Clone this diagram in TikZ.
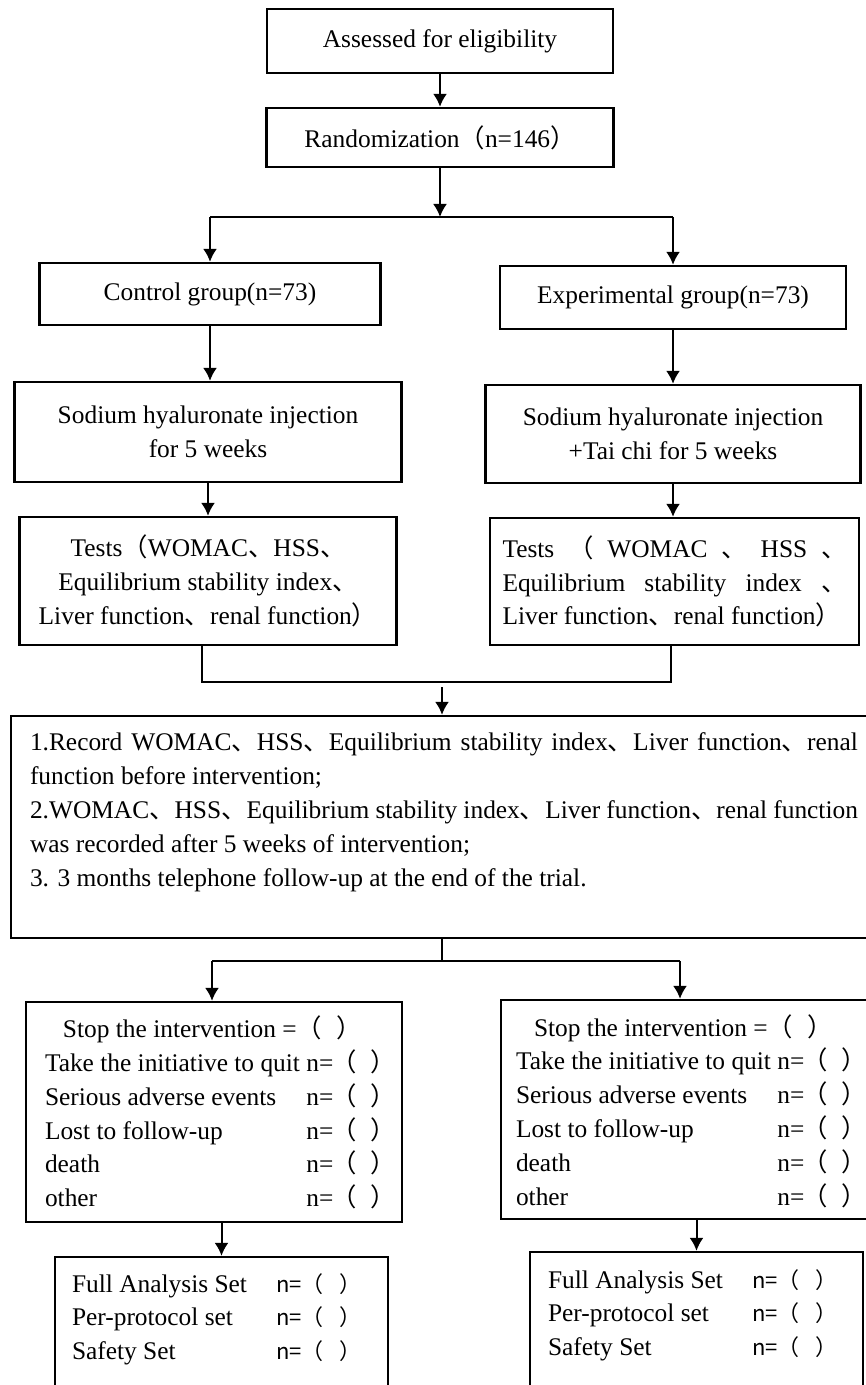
\documentclass[tikz,border=0pt]{standalone}
\usepackage{fontspec}
\setmainfont{Liberation Serif}
\newfontfamily\cjk{Noto Sans CJK SC}
\usetikzlibrary{arrows.meta}
\newcommand\dun{{\cjk 、}}
\newcommand\zkl{{\cjk （}}
\newcommand\zkr{{\cjk ）}}
\newcommand\nempty{n=\kern-1pt\zkl\hspace{7pt}\zkr\kern-6pt}
\newcommand\nbr{{\cjk\fontsize{11}{16}\selectfont n=（\hspace{8pt}）\kern-5pt}}

\begin{document}
\begin{tikzpicture}[x=0.5pt, y=-0.5pt, line width=1pt, -{Latex[length=6.5pt,width=7pt]},
      every node/.append style={font=\fontsize{12.7}{16.9}\selectfont},
      box/.style={draw, line width=1.2pt, align=center, inner sep=0pt},
      txt/.style={inner sep=0pt, anchor=north west}]
    \useasboundingbox (0,0) rectangle (866,1385);
    \clip (0,0) rectangle (866,1385);
    % top part
    \node (assess) [box, minimum width=173pt, minimum height=32pt] at (440,41) {Assessed for eligibility};
    \node (rand) [box, minimum width=173.5pt, minimum height=29.5pt] at (440,137.5) {Randomization\zkl n=146\zkr};
    \node (ctrl) [box, minimum width=170.5pt, minimum height=31pt] at (210,294) {Control group(n=73)};
    \node (expt) [box, minimum width=173pt, minimum height=31.5pt] at (673,297.5) {Experimental group(n=73)};
    \node (injC) [box, minimum width=193.5pt, minimum height=50pt] at (208,432) {Sodium hyaluronate injection\\for 5 weeks};
    \node (injE) [box, minimum width=187.5pt, minimum height=49pt] at (673,434) {Sodium hyaluronate injection\\+Tai chi for 5 weeks};
    \node (testC) [box, minimum width=188.5pt, minimum height=64pt] at (208,581)
      {Tests\zkl WOMAC\dun HSS\dun\\Equilibrium stability index\dun\\Liver function\dun renal function\zkr};
    \node (testE) [box, minimum width=184.5pt, minimum height=63.5pt, text width=172pt, align=justify] at (674.5,581.5)
      {Tests \zkl{} WOMAC \dun{} HSS \dun\linebreak Equilibrium stability index \dun\linebreak Liver function\dun renal function\zkr};
    % record box
    \node (record) [box, minimum width=432pt, minimum height=111pt] at (443,827) {};
    \node (recordtext) [txt, text width=414pt, align=justify] at (29,732)
      {1.Record WOMAC\dun HSS\dun Equilibrium stability index\dun Liver function\dun renal\linebreak
       function before intervention;\\
       2.WOMAC\dun HSS\dun Equilibrium stability index\dun Liver function\dun renal function\linebreak
       was recorded after 5 weeks of intervention;\\
       3. 3 months telephone follow-up at the end of the trial.};
    % drop-out boxes
    \node (listC) [box, minimum width=188pt, minimum height=110pt] at (214,1112) {};
    \node (listE) [box, minimum width=189.5pt, minimum height=109.5pt] at (690.5,1109.5) {};
    \node (listCtext) [txt] at (44,1013) {\begin{tabular}{@{}l@{ }l@{}}
      \multicolumn{2}{@{\hspace{9pt}}l@{}}{Stop the intervention =\zkl\hspace{7pt}\zkr}\\
      Take the initiative to quit & \nempty\\
      Serious adverse events & \nempty\\
      Lost to follow-up & \nempty\\
      death & \nempty\\
      other & \nempty
    \end{tabular}};
    \node (listEtext) [txt] at (515,1011.5) {\begin{tabular}{@{}l@{ }l@{}}
      \multicolumn{2}{@{\hspace{9pt}}l@{}}{Stop the intervention =\zkl\hspace{7pt}\zkr}\\
      Take the initiative to quit & \nempty\\
      Serious adverse events & \nempty\\
      Lost to follow-up & \nempty\\
      death & \nempty\\
      other & \nempty
    \end{tabular}};
    % analysis sets
    \node (setC) [box, minimum width=166.5pt, minimum height=81.5pt] at (221.5,1338.5) {};
    \node (setE) [box, minimum width=166.5pt, minimum height=84pt] at (696.5,1336) {};
    \node (setCtext) [txt] at (71,1267.5) {\begin{tabular}{@{}p{102pt}@{}l@{}}
      Full Analysis Set & \nbr\\
      Per-protocol set & \nbr\\
      Safety Set & \nbr
    \end{tabular}};
    \node (setEtext) [txt] at (547,1263.5) {\begin{tabular}{@{}p{102pt}@{}l@{}}
      Full Analysis Set & \nbr\\
      Per-protocol set & \nbr\\
      Safety Set & \nbr
    \end{tabular}};
    % connectors
    \coordinate (splitA) at (440,217);
    \coordinate (splitAL) at (210,217);
    \coordinate (splitAR) at (673,217);
    \coordinate (joinL) at (202,682);
    \coordinate (joinR) at (671,682);
    \coordinate (joinM) at (442,687);
    \coordinate (splitB) at (442,961);
    \coordinate (splitBL) at (212,961);
    \coordinate (splitBR) at (680,961);
    \draw (assess) -- (rand);
    \draw (rand) -- (splitA);
    \draw[-] (splitAL) -- (splitAR);
    \draw (splitAL) -- (splitAL |- ctrl.north);
    \draw (splitAR) -- (splitAR |- expt.north);
    \draw (ctrl.south) -- (ctrl.south |- injC.north);
    \draw (injC) -- (testC);
    \draw (expt) -- (injE);
    \draw (injE.south) -- (injE.south |- testE.north);
    \draw[-] (testC.south -| joinL) -- (joinL) -- (joinR) -- (testE.south -| joinR);
    \draw (joinM) -- (joinM |- record.north);
    \draw[-] (record.south -| splitB) -- (splitB);
    \draw[-] (splitBL) -- (splitBR);
    \draw (splitBL) -- (splitBL |- listC.north);
    \draw (splitBR) -- (splitBR |- listE.north);
    \draw (setC.north |- listC.south) -- (setC.north);
    \draw (setE.north |- listE.south) -- (setE.north);
\end{tikzpicture}
\end{document}
